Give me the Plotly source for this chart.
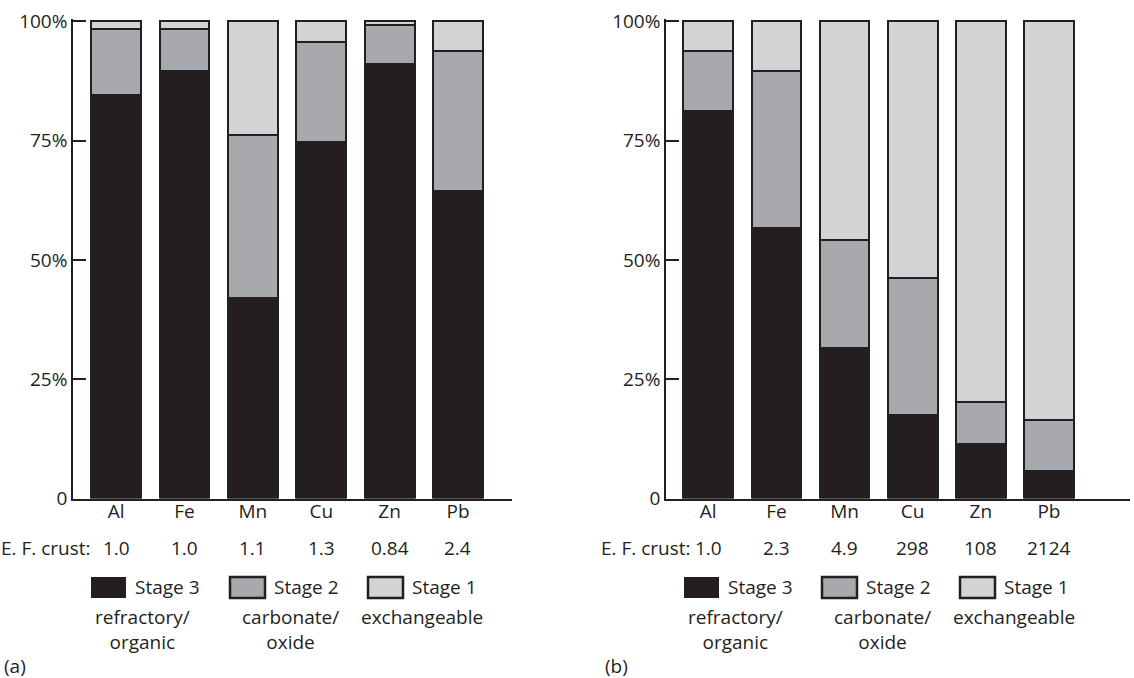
import plotly.graph_objects as go

# Sequential extraction of metals: share of each fraction (%)
elements = ["Al", "Fe", "Mn", "Cu", "Zn", "Pb"]

# (a) baseline sediment
stage3_a = [84.5, 89.6, 42.1, 74.7, 91.0, 64.5]
stage2_a = [14.0, 8.9, 34.1, 21.0, 8.3, 29.3]
stage1_a = [1.5, 1.5, 23.8, 4.3, 0.7, 6.2]
ef_a = ["1.0", "1.0", "1.1", "1.3", "0.84", "2.4"]

# (b) contaminated sediment
stage3_b = [81.3, 56.8, 31.6, 17.6, 11.5, 5.7]
stage2_b = [12.5, 32.8, 22.6, 28.6, 8.7, 10.8]
stage1_b = [6.2, 10.4, 45.8, 53.8, 79.8, 83.5]
ef_b = ["1.0", "2.3", "4.9", "298", "108", "2124"]

y_ticks = [0, 25, 50, 75, 100]
y_ticktext = ["0", "25%", "50%", "75%", "100%"]

stage_names = ["Stage 3", "Stage 2", "Stage 1"]
stage_notes = ["refractory/<br>organic", "carbonate/<br>oxide", "exchangeable"]

W, H = 1134, 678
BLACK = "#231f20"
MID = "#a7a9ac"
LIGHT = "#d1d3d4"
FONT = "Open Sans"
FS = 19


def px(x):
    return x / W


def py(y):
    return 1 - y / H


fig = go.Figure()
xs = list(range(len(elements)))

panels = [
    ("x", "y", stage3_a, stage2_a, stage1_a),
    ("x2", "y2", stage3_b, stage2_b, stage1_b),
]
for xa, ya, s3, s2, s1 in panels:
    for vals, col in ((s3, BLACK), (s2, MID), (s1, LIGHT)):
        fig.add_trace(go.Bar(
            x=xs, y=vals, width=0.73, xaxis=xa, yaxis=ya,
            marker=dict(color=col, line=dict(color=BLACK, width=2)),
            showlegend=False, hoverinfo="skip",
        ))

ydom = [py(498.5), py(19.1)]
axis_common = dict(showgrid=False, zeroline=False, showline=True,
                   linecolor=BLACK, linewidth=1.5, automargin=False)
xaxis_common = dict(tickmode="array", tickvals=xs, ticktext=elements,
                    ticks="", ticklabelstandoff=-5, **axis_common)
yaxis_common = dict(range=[0, 100.5], tickmode="array", tickvals=y_ticks,
                    ticktext=y_ticktext, ticks="inside", ticklen=13,
                    tickwidth=1.5, tickcolor=BLACK, **axis_common)
fig.update_layout(
    width=W, height=H, autosize=False, barmode="stack",
    margin=dict(l=0, r=0, t=0, b=0, pad=0, autoexpand=False),
    paper_bgcolor="white", plot_bgcolor="white",
    font=dict(family=FONT, size=FS, color=BLACK),
    xaxis=dict(domain=[px(73), px(512)], range=[-0.63, 5.79],
               anchor="y", **xaxis_common),
    yaxis=dict(domain=ydom, anchor="x", **yaxis_common),
    xaxis2=dict(domain=[px(666), px(1130)], range=[-0.62, 6.19],
                anchor="y2", **xaxis_common),
    yaxis2=dict(domain=ydom, anchor="x2", **yaxis_common),
)

annotations = []
shapes = []

# enrichment factor rows, legends and panel letters
for xa, efs, label_right, box_x, letter, letter_x in [
    ("x", ef_a, 93, [91, 230, 368], "(a)", 2),
    ("x2", ef_b, 693, [684, 822, 960], "(b)", 603),
]:
    annotations.append(dict(
        text="E. F. crust:", x=px(label_right), y=py(548), xref="paper", yref="paper",
        xanchor="right", yanchor="middle", showarrow=False))
    for i, v in enumerate(efs):
        annotations.append(dict(
            text=v, x=i, y=py(548), xref=xa, yref="paper",
            xanchor="center", yanchor="middle", showarrow=False))

    for k, (name, note, col) in enumerate(zip(stage_names, stage_notes, (BLACK, MID, LIGHT))):
        bx = box_x[k]
        shapes.append(dict(
            type="rect", xref="paper", yref="paper",
            x0=px(bx), x1=px(bx + 35), y0=py(598), y1=py(577),
            fillcolor=col, line=dict(color=BLACK, width=0 if k == 0 else 2.5)))
        annotations.append(dict(
            text=name, x=px(bx + 42), y=py(587), xref="paper", yref="paper",
            xanchor="left", yanchor="middle", showarrow=False))
        centre = bx + (51 if k == 0 else 60 if k == 1 else 54)
        annotations.append(dict(
            text=note, x=px(centre), y=py(602), xref="paper", yref="paper",
            xanchor="center", yanchor="top", showarrow=False, align="center"))

    annotations.append(dict(
        text=letter, x=px(letter_x), y=py(666), xref="paper", yref="paper",
        xanchor="left", yanchor="middle", showarrow=False))

fig.update_layout(annotations=annotations, shapes=shapes)

fig.write_html("out.html")
